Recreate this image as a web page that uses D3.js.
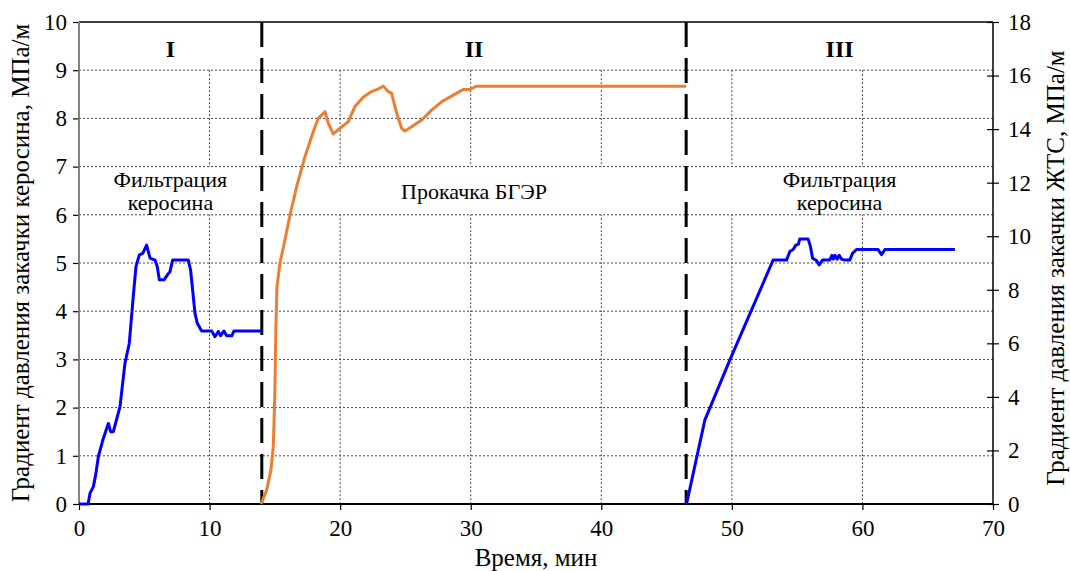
<!DOCTYPE html>
<html>
<head>
<meta charset="utf-8">
<script src="https://cdn.jsdelivr.net/npm/d3@7"></script>
<style>
  body { margin: 0; background: #fff; }
</style>
</head>
<body>
<script>
// Stage I: kerosene filtration (left axis)
var kero1Time = [0, 0.7, 0.84, 1.1, 1.3, 1.48, 1.86, 2.25, 2.42, 2.63, 3.14, 3.52, 3.85, 4.11, 4.36, 4.62, 4.88, 5.18, 5.44, 5.82, 6.0, 6.15, 6.51, 6.76, 6.97, 7.17, 8.37, 8.55, 8.88, 9.06, 9.39, 10.16, 10.41, 10.67, 10.85, 11.1, 11.31, 11.7, 11.87, 14.0];
var kero1Grad = [0, 0, 0.22, 0.36, 0.64, 0.98, 1.36, 1.67, 1.5, 1.5, 2.02, 2.92, 3.33, 4.16, 4.92, 5.17, 5.2, 5.37, 5.1, 5.06, 4.92, 4.65, 4.65, 4.75, 4.82, 5.06, 5.06, 4.85, 3.96, 3.75, 3.59, 3.59, 3.47, 3.58, 3.49, 3.59, 3.49, 3.49, 3.59, 3.59];

// Stage II: pumping (right axis)
var pumpTime = [13.94, 14.37, 14.7, 14.88, 15.0, 15.08, 15.16, 15.39, 15.77, 16.16, 16.67, 17.3, 17.94, 18.32, 18.84, 19.09, 19.47, 19.98, 20.62, 21.13, 21.77, 22.28, 22.92, 23.3, 23.68, 23.94, 24.33, 24.71, 24.96, 25.47, 26.24, 27.0, 27.77, 28.66, 29.43, 29.94, 30.4, 46.5];
var pumpGrad = [0, 0.52, 1.27, 2.14, 4.13, 6.62, 8.11, 8.99, 9.86, 10.79, 11.85, 12.97, 13.9, 14.4, 14.65, 14.22, 13.82, 14.03, 14.28, 14.84, 15.19, 15.37, 15.5, 15.61, 15.4, 15.34, 14.59, 14.03, 13.93, 14.09, 14.34, 14.71, 15.02, 15.27, 15.48, 15.48, 15.6, 15.6];

// Stage III: kerosene filtration (left axis)
var kero3Time = [46.53, 47.93, 49.85, 53.16, 54.19, 54.44, 54.69, 54.9, 55.1, 55.2, 55.84, 56.02, 56.18, 56.48, 56.69, 56.94, 57.5, 57.66, 57.78, 57.9, 58.07, 58.22, 58.4, 58.65, 59.03, 59.24, 59.54, 61.2, 61.46, 61.72, 67.08];
var kero3Grad = [0, 1.74, 2.99, 5.06, 5.06, 5.24, 5.28, 5.37, 5.39, 5.5, 5.5, 5.34, 5.1, 5.05, 4.96, 5.06, 5.06, 5.16, 5.08, 5.16, 5.08, 5.16, 5.08, 5.06, 5.06, 5.2, 5.28, 5.28, 5.17, 5.28, 5.28];

var xTicks = [0, 10, 20, 30, 40, 50, 60, 70];
var yLeftTicks = [0, 1, 2, 3, 4, 5, 6, 7, 8, 9, 10];
var yRightTicks = [0, 2, 4, 6, 8, 10, 12, 14, 16, 18];
var stageBounds = [14, 46.5];
var stageNames = ["I", "II", "III"];
var stageCenters = [7, 30.25, 58.25];
var stageLabels = [["Фильтрация", "керосина"], ["Прокачка БГЭР"], ["Фильтрация", "керосина"]];

var W = 1070, H = 571;
var plotL = 79, plotR = 993, plotT = 22, plotB = 504;

var svg = d3.select("body").append("svg").attr("width", W).attr("height", H);

var x = d3.scaleLinear().domain([0, 70]).range([plotL, plotR]);
var yL = d3.scaleLinear().domain([0, 10]).range([plotB, plotT]);
var yR = d3.scaleLinear().domain([0, 18]).range([plotB, plotT]);

// vertical grid
svg.append("g").selectAll("line")
  .data(xTicks.slice(1, -1))
  .enter().append("line")
  .attr("x1", d => x(d)).attr("x2", d => x(d))
  .attr("y1", yL(9)).attr("y2", plotB)
  .attr("stroke", "#444").attr("stroke-width", 1).attr("stroke-dasharray", "2,2");

// white band behind the text labels
svg.append("rect")
  .attr("x", plotL + 1).attr("width", plotR - plotL - 2)
  .attr("y", yL(7)).attr("height", yL(6) - yL(7))
  .attr("fill", "#fff");

// horizontal grid
svg.append("g").selectAll("line")
  .data(yLeftTicks.slice(1, -1))
  .enter().append("line")
  .attr("x1", plotL).attr("x2", plotR)
  .attr("y1", d => yL(d)).attr("y2", d => yL(d))
  .attr("stroke", "#444").attr("stroke-width", 1).attr("stroke-dasharray", "2,2");

// top border
svg.append("line")
  .attr("x1", plotL).attr("x2", plotR).attr("y1", plotT).attr("y2", plotT)
  .attr("stroke", "#000").attr("stroke-width", 1.3);

// axes
var xAxis = svg.append("g")
  .attr("transform", "translate(0," + plotB + ")")
  .call(d3.axisBottom(x).tickValues(xTicks).tickSize(6).tickPadding(10));
var lAxis = svg.append("g")
  .attr("transform", "translate(" + plotL + ",0)")
  .call(d3.axisLeft(yL).tickValues(yLeftTicks).tickSize(6).tickPadding(6));
var rAxis = svg.append("g")
  .attr("transform", "translate(" + plotR + ",0)")
  .call(d3.axisRight(yR).tickValues(yRightTicks).tickSize(6).tickPadding(9));

[xAxis, lAxis, rAxis].forEach(function(g) {
  g.selectAll("text").style("font-size", "23px").attr("fill", "#000");
  g.selectAll("line").attr("stroke", "#000").attr("stroke-width", 1.2);
  g.select(".domain").remove();
});
// right ticks cross the axis
rAxis.selectAll(".tick line").attr("x1", -6);

svg.append("line").attr("x1", plotL).attr("x2", plotR).attr("y1", plotB).attr("y2", plotB)
  .attr("stroke", "#000").attr("stroke-width", 1.8);
svg.append("line").attr("x1", plotL).attr("x2", plotL).attr("y1", plotT).attr("y2", plotB)
  .attr("stroke", "#777").attr("stroke-width", 1.8);
svg.append("line").attr("x1", plotR).attr("x2", plotR).attr("y1", plotT).attr("y2", plotB)
  .attr("stroke", "#000").attr("stroke-width", 1.5);

// stage separators
svg.append("g").selectAll("line")
  .data(stageBounds)
  .enter().append("line")
  .attr("x1", d => x(d)).attr("x2", d => x(d))
  .attr("y1", plotT).attr("y2", plotB)
  .attr("stroke", "#000").attr("stroke-width", 3).attr("stroke-dasharray", "25,11");

// stage numerals
svg.append("g").selectAll("text")
  .data(stageNames)
  .enter().append("text")
  .attr("x", (d, i) => x(stageCenters[i]))
  .attr("y", 57)
  .attr("text-anchor", "middle")
  .style("font-size", "24px").style("font-weight", "bold")
  .text(d => d);

// stage labels
stageLabels.forEach(function(lines, i) {
  var t = svg.append("text")
    .attr("text-anchor", "middle")
    .style("font-size", "22px");
  var y0 = lines.length === 1 ? 199 : 187;
  lines.forEach(function(s, j) {
    t.append("tspan").attr("x", x(stageCenters[i])).attr("y", y0 + j * 23).text(s);
  });
});

// series
var lineL = d3.line().x(d => x(d[0])).y(d => yL(d[1]));
var lineR = d3.line().x(d => x(d[0])).y(d => yR(d[1]));

svg.append("path")
  .datum(d3.zip(pumpTime, pumpGrad))
  .attr("d", lineR)
  .attr("fill", "none").attr("stroke", "#ED7D31").attr("stroke-width", 3).attr("stroke-linejoin", "round");

svg.append("path")
  .datum(d3.zip(kero1Time, kero1Grad))
  .attr("d", lineL)
  .attr("fill", "none").attr("stroke", "#0000FF").attr("stroke-width", 3).attr("stroke-linejoin", "round");

svg.append("path")
  .datum(d3.zip(kero3Time, kero3Grad))
  .attr("d", lineL)
  .attr("fill", "none").attr("stroke", "#0000FF").attr("stroke-width", 3).attr("stroke-linejoin", "round");

// axis titles
svg.append("text")
  .attr("transform", "translate(29," + ((plotT + plotB) / 2) + ") rotate(-90)")
  .attr("text-anchor", "middle")
  .style("font-size", "25px")
  .text("Градиент давления закачки керосина, МПа/м");

svg.append("text")
  .attr("transform", "translate(1064," + ((plotT + plotB) / 2 + 5) + ") rotate(-90)")
  .attr("text-anchor", "middle")
  .style("font-size", "25px")
  .text("Градиент давления закачки ЖТС, МПа/м");

svg.append("text")
  .attr("x", x(35)).attr("y", 566)
  .attr("text-anchor", "middle")
  .style("font-size", "25px")
  .text("Время, мин");

// serif everywhere, as in the original figure
svg.selectAll("text").style("font-family", "'Liberation Serif', serif").attr("fill", "#000");
</script>
</body>
</html>
